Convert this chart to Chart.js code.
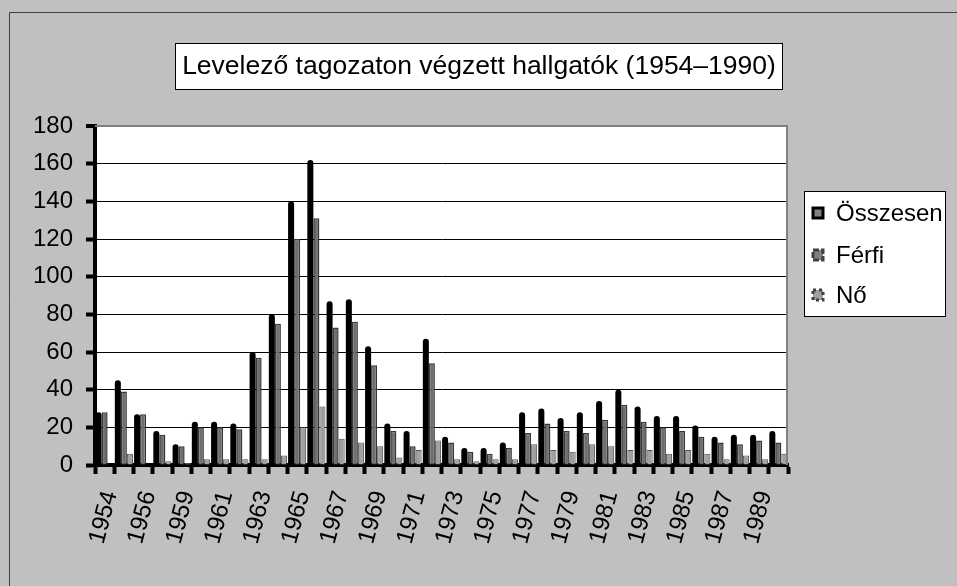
<!DOCTYPE html>
<html>
<head>
<meta charset="utf-8">
<script src="https://cdn.jsdelivr.net/npm/chart.js@4/dist/chart.umd.min.js"></script>
<style>
    html, body { margin: 0; padding: 0; background: #C0C0C0; }
    #wrap { width: 957px; height: 586px; }
</style>
</head>
<body>
<div id="wrap"><canvas id="chart" width="957" height="586"></canvas></div>
<script>
// Years (one year between 1956 and 1959 is missing in the source)
const years = ['1954', '1955', '1956', '1958', '1959', '1960', '1961', '1962', '1963', '1964',
    '1965', '1966', '1967', '1968', '1969', '1970', '1971', '1972', '1973', '1974',
    '1975', '1976', '1977', '1978', '1979', '1980', '1981', '1982', '1983', '1984',
    '1985', '1986', '1987', '1988', '1989', '1990'];

const osszesen = [28, 45, 27, 18, 11, 23, 23, 22, 60, 80,
    140, 162, 87, 88, 63, 22, 18, 67, 15, 9,
    9, 12, 28, 30, 25, 28, 34, 40, 31, 26,
    26, 21, 15, 16, 16, 18];

const ferfi = [28, 39, 27, 16, 10, 20, 20, 19, 57, 75,
    120, 131, 73, 76, 53, 18, 10, 54, 12, 7,
    6, 9, 17, 22, 18, 17, 24, 32, 23, 20,
    18, 15, 12, 11, 13, 12];

const no = [0, 6, 0, 2, 1, 3, 3, 3, 3, 5,
    20, 31, 14, 12, 10, 4, 8, 13, 3, 2,
    3, 3, 11, 8, 7, 11, 10, 8, 8, 6,
    8, 6, 3, 5, 3, 6];

const seriesNames = ['Összesen', 'Férfi', 'Nő'];
const yTicks = [0, 20, 40, 60, 80, 100, 120, 140, 160, 180];

const titleText = 'Levelező tagozaton végzett hallgatók (1954–1990)';
const FONT = '"Liberation Sans", Arial, sans-serif';

// Grey frame, white plot area, title box and legend box
const excelLook = {
    id: 'excelLook',
    beforeDraw(chart) {
        const { ctx, chartArea: a } = chart;
        ctx.save();
        ctx.fillStyle = '#C0C0C0';
        ctx.fillRect(0, 0, chart.width, chart.height);
        // outer frame (only left and top visible)
        ctx.strokeStyle = '#404040';
        ctx.lineWidth = 1;
        ctx.beginPath();
        ctx.moveTo(9.5, chart.height);
        ctx.lineTo(9.5, 12.5);
        ctx.lineTo(chart.width, 12.5);
        ctx.stroke();
        ctx.fillStyle = '#FFFFFF';
        ctx.fillRect(a.left, a.top, a.right - a.left, a.bottom - a.top);
        ctx.restore();
    },
    afterDatasetsDraw(chart) {
        const { ctx, chartArea: a } = chart;
        ctx.save();
        ctx.strokeStyle = '#808080';
        ctx.lineWidth = 2;
        ctx.beginPath();
        ctx.moveTo(a.left, a.top);
        ctx.lineTo(a.right - 1, a.top);
        ctx.lineTo(a.right - 1, a.bottom);
        ctx.stroke();
        ctx.restore();
    },
    afterDraw(chart) {
        const ctx = chart.ctx;
        ctx.save();

        // Title box
        ctx.fillStyle = '#FFFFFF';
        ctx.fillRect(175, 43, 607, 46);
        ctx.strokeStyle = '#000000';
        ctx.lineWidth = 1;
        ctx.strokeRect(175.5, 43.5, 607, 46);
        ctx.fillStyle = '#000000';
        ctx.font = '26.5px ' + FONT;
        ctx.textAlign = 'center';
        ctx.textBaseline = 'middle';
        ctx.fillText(titleText, 479, 67);

        // Legend box
        ctx.fillStyle = '#FFFFFF';
        ctx.fillRect(804, 191, 141, 125);
        ctx.strokeStyle = '#000000';
        ctx.strokeRect(804.5, 191.5, 141, 125);

        const rows = [213, 255, 295];
        const swatches = [
            { fill: '#808080', stroke: '#000000', dash: [] },
            { fill: '#808080', stroke: '#404040', dash: [6, 2] },
            { fill: '#A0A0A0', stroke: '#404040', dash: [3, 3] }
        ];
        ctx.font = '24px ' + FONT;
        ctx.textAlign = 'left';
        seriesNames.forEach((name, i) => {
            const y = rows[i];
            const s = swatches[i];
            ctx.fillStyle = s.fill;
            ctx.fillRect(813, y - 5, 10, 10);
            ctx.strokeStyle = s.stroke;
            ctx.lineWidth = 3;
            ctx.setLineDash(s.dash);
            ctx.strokeRect(813, y - 5, 10, 10);
            ctx.setLineDash([]);
            ctx.fillStyle = '#000000';
            ctx.fillText(name, 836, y + 1);
        });
        ctx.restore();
    }
};

const ctx = document.getElementById('chart');

new Chart(ctx, {
    type: 'bar',
    data: {
        labels: years,
        datasets: [{
            label: seriesNames[0],
            data: osszesen,
            backgroundColor: '#000000',
            borderColor: '#000000',
            borderWidth: 0,
            borderRadius: { topLeft: 3, topRight: 3 }
        }, {
            label: seriesNames[1],
            data: ferfi,
            backgroundColor: '#6E6E6E',
            borderColor: '#383838',
            borderWidth: 1.5
        }, {
            label: seriesNames[2],
            data: no,
            backgroundColor: '#A0A0A0',
            borderColor: '#505050',
            borderWidth: 1
        }]
    },
    options: {
        responsive: false,
        animation: false,
        events: [],
        layout: { padding: { left: 0, top: 126, right: 169, bottom: 0 } },
        datasets: {
            bar: { categoryPercentage: 0.94, barPercentage: 1 }
        },
        plugins: {
            legend: { display: false },
            title: { display: false },
            tooltip: { enabled: false }
        },
        scales: {
            x: {
                offset: true,
                grid: {
                    offset: true,
                    drawOnChartArea: false,
                    tickLength: 9,
                    tickWidth: 4,
                    tickColor: '#000000'
                },
                border: { display: true, color: '#000000', width: 4 },
                ticks: {
                    autoSkip: false,
                    minRotation: 75,
                    maxRotation: 75,
                    padding: 14,
                    labelOffset: 6,
                    color: '#000000',
                    font: { family: FONT, size: 24 },
                    callback: function (value, index) {
                        return index % 2 === 0 ? this.getLabelForValue(value) : '';
                    }
                },
                afterFit: scale => { scale.height = 121; }
            },
            y: {
                min: 0,
                max: 180,
                afterBuildTicks: scale => { scale.ticks = yTicks.map(v => ({ value: v })); },
                grid: {
                    color: c => (c.tick && c.tick.value === 180 ? '#808080' : '#000000'),
                    lineWidth: c => (c.tick && c.tick.value === 180 ? 2 : 1),
                    tickLength: 9,
                    tickWidth: 4,
                    tickColor: '#000000'
                },
                border: { display: true, color: '#000000', width: 4 },
                ticks: {
                    padding: 13,
                    color: '#000000',
                    font: { family: FONT, size: 24 }
                },
                afterFit: scale => { scale.width = 95; }
            }
        }
    },
    plugins: [excelLook]
});
</script>
</body>
</html>
